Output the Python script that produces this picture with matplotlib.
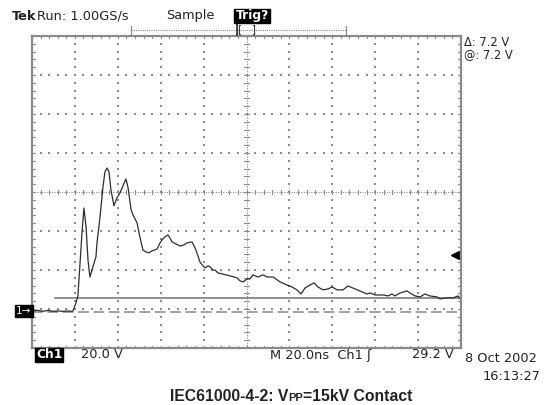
import numpy as np
import matplotlib.pyplot as plt

# waveform: time in ns from left edge, volts above ground
time_ns = [0.5, 2.8, 5.1, 7.5, 9.8, 12.1, 14.5, 16.8, 18.6, 19.1, 20.5, 21.4, 22.4, 23.3,
           24.2, 25.2, 26.1, 27.0, 28.4, 29.8, 30.3, 31.7, 33.1, 34.0, 35.0, 35.9, 36.8,
           38.2, 39.6, 41.0, 42.4, 43.8, 44.8, 46.2, 47.1, 49.0, 50.3, 51.7, 53.1, 54.5,
           55.9, 57.3, 58.3, 59.7, 60.6, 62.0, 63.4, 64.3, 65.3, 67.1, 69.0, 70.9, 72.3,
           74.6, 76.0, 77.4, 78.3, 79.7, 80.7, 82.1, 83.0, 84.4, 85.3, 86.7, 88.6, 90.4,
           92.3, 94.2, 95.6, 97.0, 98.4, 100.2, 101.6, 103.0, 105.4, 107.7, 109.6, 112.4,
           115.6, 118.9, 121.2, 123.5, 125.4, 127.3, 129.6, 131.5, 133.3, 135.7, 138.0,
           139.9, 142.2, 145.0, 147.3, 150.6, 153.8, 156.2, 157.6, 159.9, 163.6, 166.0,
           167.8, 169.2, 171.6, 174.8, 176.2, 178.6, 180.9, 183.2, 185.5, 188.8, 190.2,
           193.5, 196.3, 198.6, 200.0]
volts = [0.5, 0.8, 0.3, 0.8, 0.3, 0.5, 0.3, 0.5, 0.3, 0.5, 4.6, 8.2, 25.1, 40.5,
         53.3, 43.6, 26.7, 17.9, 23.1, 28.2, 35.4, 48.7, 64.1, 71.8, 73.8, 71.8, 62.6,
         54.4, 58.5, 61.0, 64.6, 68.2, 63.6, 52.3, 49.7, 45.6, 38.5, 31.8, 30.8, 30.3,
         31.3, 31.8, 32.3, 35.4, 36.9, 38.5, 39.5, 37.9, 35.9, 34.9, 33.8, 34.4, 35.4,
         35.9, 32.8, 28.7, 25.6, 23.6, 22.6, 23.6, 23.1, 21.5, 21.5, 20.0, 19.5, 19.0,
         18.5, 17.9, 17.4, 15.9, 15.4, 16.9, 16.9, 19.0, 17.9, 19.0, 17.9, 17.9,
         15.4, 13.8, 12.8, 11.3, 9.2, 12.3, 13.8, 14.9, 12.8, 11.3, 11.8,
         12.8, 11.3, 11.3, 13.3, 11.8, 10.3, 9.2, 9.7, 8.7, 8.7, 8.2,
         9.2, 8.2, 9.7, 10.8, 9.7, 8.2, 7.7, 9.2, 8.2, 7.7, 6.7,
         7.2, 7.2, 8.2, 6.2]

cursor_v = 7.2
trigger_v = 29.2
volts_per_div = 20.0
ns_per_div = 20.0
center_v = 61.5  # screen centre sits ~3.08 div above ground

fig = plt.figure(figsize=(5.49, 4.05), dpi=100)
ax = fig.add_axes([32 / 549, 1 - 348 / 405, 429 / 549, 312 / 405])
x_lo, x_hi = 0, 10 * ns_per_div
y_lo, y_hi = center_v - 4 * volts_per_div, center_v + 4 * volts_per_div
ax.set_xlim(x_lo, x_hi)
ax.set_ylim(y_lo, y_hi)
ax.set_xticks([])
ax.set_yticks([])
for s in ax.spines.values():
    s.set_color('#8a8a8a')
    s.set_linewidth(1.6)

grid_c = '#8c8c8c'
# graticule: dots every 1/5 division along each division line
xs_minor = np.arange(x_lo, x_hi + 0.01, ns_per_div / 5)
ys_minor = np.arange(y_lo, y_hi + 0.01, volts_per_div / 5)
for k in range(1, 10):
    if k == 5:
        continue
    xv = x_lo + k * ns_per_div
    ax.scatter(np.full(len(ys_minor), xv), ys_minor, s=0.8, marker='s', color=grid_c, lw=0)
for k in range(1, 8):
    if k == 4:
        continue
    yv = y_lo + k * volts_per_div
    ax.scatter(xs_minor, np.full(len(xs_minor), yv), s=0.8, marker='s', color=grid_c, lw=0)

# centre cross with minor ticks
xc, yc = (x_lo + x_hi) / 2, center_v
ax.axvline(xc, color=grid_c, lw=0.8, ls=(0, (1, 1.2)))
ax.axhline(yc, color=grid_c, lw=0.8, ls=(0, (1, 1.2)))
tx = ns_per_div * 0.06
ty = volts_per_div * 0.06
for yv in ys_minor:
    ax.plot([xc - tx, xc + tx], [yv, yv], color=grid_c, lw=0.8)
for xv in xs_minor:
    ax.plot([xv, xv], [yc - ty, yc + ty], color=grid_c, lw=0.8)
# edge ticks
for yv in ys_minor:
    ax.plot([x_lo, x_lo + tx], [yv, yv], color=grid_c, lw=0.8)
    ax.plot([x_hi - tx, x_hi], [yv, yv], color=grid_c, lw=0.8)
for xv in xs_minor:
    ax.plot([xv, xv], [y_lo, y_lo + ty], color=grid_c, lw=0.8)
    ax.plot([xv, xv], [y_hi - ty, y_hi], color=grid_c, lw=0.8)

# ground reference and cursor
ax.axhline(0, color='#9a9a9a', lw=1.3, ls=(0, (6, 2.5)))
ax.plot([10.7, x_hi], [cursor_v, cursor_v], color='#707070', lw=1.1)

# trace
ax.plot(time_ns, volts, color='#2e2e2e', lw=0.9, clip_on=True)

# trigger level marker near right edge
ax.plot([x_hi - 2.6], [trigger_v], marker='<', color='black', ms=6)
ax.plot([x_hi - 2.6, x_hi], [trigger_v, trigger_v], color='black', lw=1.3)

mono = 'DejaVu Sans'
fs = 9.3
ftxt = dict(fontsize=fs, family=mono, color='#222222', va='center', transform=fig.transFigure)

def px(x, y):
    return x / 549, 1 - y / 405

fig.text(*px(12, 16), 'Tek', fontweight='bold', **ftxt)
fig.text(*px(37, 16), 'Run: 1.00GS/s', **ftxt)
fig.text(*px(166, 16), 'Sample', **ftxt)
fig.text(*px(252, 16), 'Trig?', ha='center', fontweight='bold', fontsize=8.8, family=mono,
         color='white', va='center', transform=fig.transFigure,
         bbox=dict(boxstyle='square,pad=0.08', fc='black', ec='black'))

# record length bar above screen
fig.add_artist(plt.Line2D([131 / 549, 346 / 549], [1 - 30 / 405] * 2, color='#888888',
                          lw=0.8, ls=(0, (1, 1))))
for xb in (131, 346):
    fig.add_artist(plt.Line2D([xb / 549] * 2, [1 - 26 / 405, 1 - 35 / 405], color='#888888', lw=0.8))
fig.text(*px(247, 29), '[   ]', ha='center', fontsize=7.5, family=mono, color='#222222',
         va='center', transform=fig.transFigure)
fig.add_artist(plt.Line2D([237 / 549] * 2, [1 - 24 / 405, 1 - 35 / 405], color='#222222', lw=1.2))

# cursor readout, two lines in one text
fig.text(*px(464, 49), '\u0394: 7.2 V\n@: 7.2 V', linespacing=0.9,
         **{**ftxt, 'fontsize': 8.3})

# channel 1 ground marker
fig.text(*px(16, 311), '1\u2192', fontsize=7.5, family=mono, color='white', va='center',
         transform=fig.transFigure, bbox=dict(boxstyle='square,pad=0.12', fc='black', ec='black'))

fig.text(*px(36, 355), 'Ch1', fontweight='bold', fontsize=8.8, family=mono, color='white',
         va='center', transform=fig.transFigure,
         bbox=dict(boxstyle='square,pad=0.08', fc='black', ec='black'))
fig.text(*px(81, 355), '20.0 V', **ftxt)
fig.text(*px(270, 355), 'M 20.0ns  Ch1 \u0283', **ftxt)
fig.text(*px(412, 355), '29.2 V', **ftxt)
fig.text(*px(465, 358), '8 Oct 2002', **ftxt)
fig.text(*px(483, 377), '16:13:27', **ftxt)

# caption with small PP
cap = dict(fontsize=11.3, family='Liberation Sans', fontweight='bold', color='#222222',
           va='baseline', transform=fig.transFigure)
renderer = fig.canvas.get_renderer()
t1 = fig.text(*px(170, 401), 'IEC61000-4-2: V', **cap)
bb = t1.get_window_extent(renderer)
t2 = fig.text(bb.x1 / fig.bbox.width, 1 - 401 / 405, 'PP', **{**cap, 'fontsize': 8})
bb2 = t2.get_window_extent(renderer)
fig.text(bb2.x1 / fig.bbox.width, 1 - 401 / 405, '=15kV Contact', **cap)

fig.savefig('out.png', dpi=100)
